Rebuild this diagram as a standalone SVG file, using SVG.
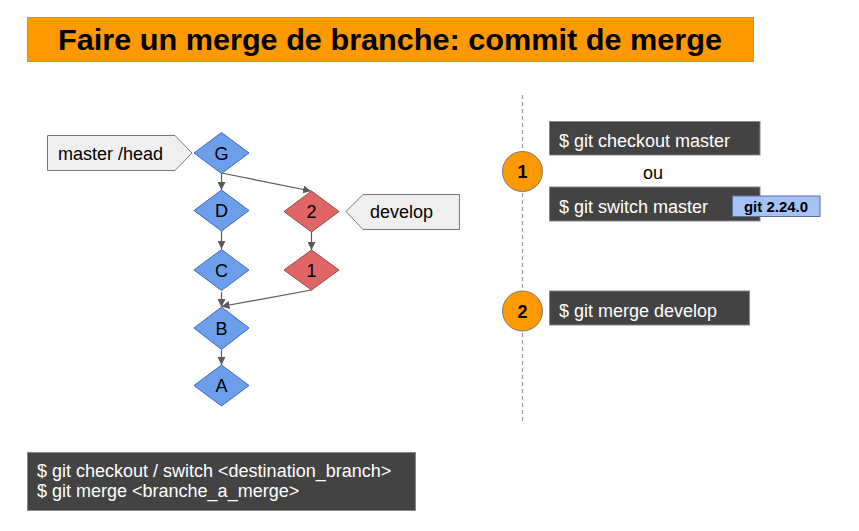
<svg xmlns="http://www.w3.org/2000/svg" width="859" height="531" viewBox="0 0 859 531">
<style>
text{font-family:"Liberation Sans",Arial,sans-serif;}
.lbl{font-size:18px;fill:#000;}
.blue{fill:#6d9eeb;stroke:#3d6bb3;stroke-width:1;}
.red{fill:#e06666;stroke:#8e4b4b;stroke-width:1;}
.tag{fill:#efefef;stroke:#777;stroke-width:1;}
.dark{fill:#434343;stroke:#888;stroke-width:1;}
.cmd{font-size:18px;fill:#fff;}
.step{fill:#ff9900;stroke:#777;stroke-width:1;}
.num{font-size:18px;font-weight:bold;fill:#000;text-anchor:middle;}
.node{font-size:18px;fill:#000;text-anchor:middle;}
.conn{stroke:#595959;stroke-width:1.2;fill:none;marker-end:url(#ah);}
</style>
<defs>
<marker id="ah" viewBox="0 0 10 10" refX="10" refY="5" markerWidth="8" markerHeight="8" markerUnits="userSpaceOnUse" orient="auto">
<path d="M0,0 L10,5 L0,10 z" fill="#595959"/>
</marker>
</defs>
<rect width="859" height="531" fill="#fff"/>
<g id="title">
<rect x="27.5" y="17.5" width="726" height="44" fill="#ff9900" stroke="#999"/>
<text x="58" y="50" font-size="30" font-weight="bold" textLength="664" lengthAdjust="spacingAndGlyphs">Faire un merge de branche: commit de merge</text>
</g>
<g id="connectors">
<line class="conn" x1="221.5" y1="173" x2="221.5" y2="190"/>
<line class="conn" x1="221.5" y1="173" x2="311" y2="191"/>
<line class="conn" x1="221.5" y1="231" x2="221.5" y2="249"/>
<line class="conn" x1="221.5" y1="292" x2="221.5" y2="307"/>
<line class="conn" x1="311.5" y1="290" x2="221.5" y2="306.5"/>
<line class="conn" x1="311.5" y1="232" x2="311.5" y2="250"/>
<line class="conn" x1="221.5" y1="350" x2="221.5" y2="365"/>
</g>
<g id="label-master">
<path class="tag" d="M47.5,135.5 H175 L192,153 L175,170.5 H47.5 Z"/>
<text class="lbl" x="58" y="159.5">master /head</text>
</g>
<g id="label-develop">
<path class="tag" d="M459.5,194.5 H363 L346,211.5 L363,229.5 H459.5 Z"/>
<text class="lbl" x="370" y="217.5">develop</text>
</g>
<g id="node-G"><path class="blue" d="M221.5,132.5 L249,153 L221.5,173.5 L194,153 Z"/><text class="node" x="221.5" y="159.5">G</text></g>
<g id="node-D"><path class="blue" d="M221.5,190 L249,210.5 L221.5,231 L194,210.5 Z"/><text class="node" x="221.5" y="217">D</text></g>
<g id="node-C"><path class="blue" d="M221.5,249.5 L249,270 L221.5,290.5 L194,270 Z"/><text class="node" x="221.5" y="276.5">C</text></g>
<g id="node-B"><path class="blue" d="M221.5,307 L249,328 L221.5,349.5 L194,328 Z"/><text class="node" x="221.5" y="334.5">B</text></g>
<g id="node-A"><path class="blue" d="M221.5,365 L249,385.5 L221.5,406 L194,385.5 Z"/><text class="node" x="221.5" y="392">A</text></g>
<g id="node-2"><path class="red" d="M311.5,191 L339,211.5 L311.5,232 L284,211.5 Z"/><text class="node" x="311.5" y="218">2</text></g>
<g id="node-1"><path class="red" d="M311.5,250 L339,270 L311.5,290 L284,270 Z"/><text class="node" x="311.5" y="276.5">1</text></g>
<g id="divider">
<line x1="522.5" y1="95" x2="522.5" y2="422" stroke="#999" stroke-width="1.2" stroke-dasharray="4,3"/>
</g>
<g id="step-1">
<circle class="step" cx="522.5" cy="171.5" r="20"/>
<text class="num" x="522.5" y="178">1</text>
</g>
<g id="cmd-checkout">
<rect class="dark" x="549.5" y="121.5" width="210.5" height="33.5"/>
<text class="cmd" x="559" y="147">$ git checkout master</text>
</g>
<g id="ou"><text class="lbl" x="653" y="179" text-anchor="middle">ou</text></g>
<g id="cmd-switch">
<rect class="dark" x="549.5" y="187" width="210.5" height="34"/>
<text class="cmd" x="559" y="213">$ git switch master</text>
</g>
<g id="badge">
<rect x="732.5" y="196" width="87.5" height="20.5" fill="#a4c2f4" stroke="#5a6f99"/>
<text x="776" y="211.5" font-size="15" font-weight="bold" text-anchor="middle" fill="#000">git 2.24.0</text>
</g>
<g id="step-2">
<circle class="step" cx="522.5" cy="311" r="20"/>
<text class="num" x="522.5" y="317.5">2</text>
</g>
<g id="cmd-merge">
<rect class="dark" x="549.5" y="291" width="200" height="34"/>
<text class="cmd" x="559" y="316.5">$ git merge develop</text>
</g>
<g id="summary">
<rect class="dark" x="27.5" y="452.5" width="388" height="58"/>
<text class="cmd" x="37" y="477">$ git checkout / switch &lt;destination_branch&gt;</text>
<text class="cmd" x="37" y="497">$ git merge &lt;branche_a_merge&gt;</text>
</g>
</svg>
